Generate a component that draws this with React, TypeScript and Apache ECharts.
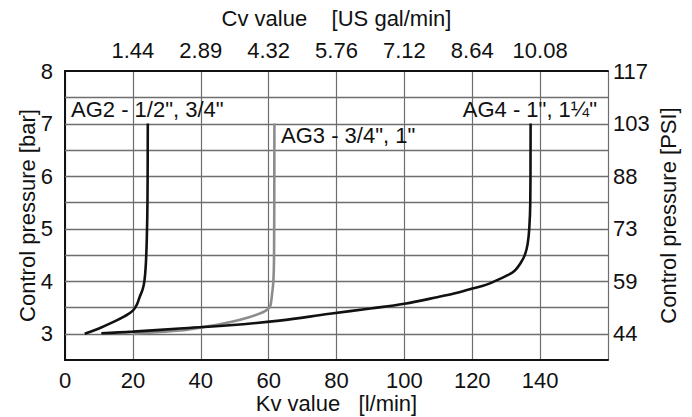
import React, { useEffect, useRef } from "react";
import * as echarts from "echarts";

// Kv axis (bottom) ticks and Cv labels (top)
const kvTicks = [0, 20, 40, 60, 80, 100, 120, 140, 160];
const cvLabels = ["", "1.44", "2.89", "4.32", "5.76", "7.12", "8.64", "10.08", ""];
// pressure (left, bar) and PSI labels (right)
const barTicks = [3, 4, 5, 6, 7, 8];
const psiLabels = ["44", "59", "73", "88", "103", "117"];
// horizontal grid lines every half bar
const gridBars = [3, 3.5, 4, 4.5, 5, 5.5, 6, 6.5, 7, 7.5];

// AG2 - 1/2", 3/4"
const ag2Kv = [5.8, 10, 14.1, 17.5, 20, 21.2, 22, 22.9, 23.4, 23.8, 24.1, 24.3, 24.4];
const ag2P = [3.0, 3.1, 3.22, 3.33, 3.44, 3.56, 3.7, 3.85, 4.0, 4.3, 4.8, 5.5, 7.0];
// AG3 - 3/4", 1"
const ag3Kv = [20, 27, 33.8, 41, 48.5, 54, 58.3, 59.8, 60.5, 61, 61.4, 61.6, 61.7];
const ag3P = [3.0, 3.03, 3.06, 3.13, 3.22, 3.31, 3.41, 3.47, 3.53, 3.75, 4.0, 4.5, 7.0];
// AG4 - 1", 1¼"
const ag4Kv = [10.7, 20, 33.8, 48.5, 63.2, 78, 90, 100, 110, 116.2, 120, 124, 127, 130, 132.5, 134.3, 135.5, 136.3, 136.8, 137.1, 137.2];
const ag4P = [3.01, 3.04, 3.1, 3.16, 3.25, 3.38, 3.48, 3.57, 3.7, 3.79, 3.86, 3.93, 4.01, 4.1, 4.2, 4.35, 4.5, 4.7, 5.0, 5.5, 7.0];

const seriesLabels = ['AG2 - 1/2", 3/4"', 'AG3 - 3/4", 1"', 'AG4 - 1", 1¼"'];

const FONT = "Liberation Sans";
const FS = 22;

export default function App() {
  const ref = useRef<HTMLDivElement>(null);
  useEffect(() => {
    if (!ref.current) return;
    const chart = echarts.init(ref.current, null, { renderer: "svg" });
    const zip = (a: number[], b: number[]) => a.map((v, i) => [v, b[i]]);
    const axisLine = { show: true, lineStyle: { color: "#111", width: 2 } };
    const txt = { color: "#111", fontFamily: FONT, fontSize: FS, lineHeight: FS };
    const gridColor = "#6e6e6e";
    const xMin = kvTicks[0];
    const xMax = kvTicks[kvTicks.length - 1];
    chart.setOption({
      animation: false,
      backgroundColor: "#fff",
      grid: { left: 65, right: 84, top: 71, bottom: 57, containLabel: false, outerBoundsMode: "none" },
      xAxis: [
        {
          type: "value", position: "bottom", min: xMin, max: xMax, interval: 20,
          axisLine, axisTick: { show: false },
          axisLabel: { ...txt, margin: 9, formatter: (v: number) => (v === 160 ? "" : String(v)) },
          splitLine: { show: true, lineStyle: { color: gridColor, width: 1.2 } },
          name: "Kv value   [l/min]", nameLocation: "middle", nameGap: 32, nameMoveOverlap: false,
          nameTextStyle: { ...txt },
        },
        {
          type: "value", position: "top", min: xMin, max: xMax, interval: 20,
          axisLine, axisTick: { show: false },
          axisLabel: { ...txt, margin: 10, formatter: (v: number) => cvLabels[kvTicks.indexOf(v)] ?? "" },
          splitLine: { show: false },
          name: "Cv value    [US gal/min]", nameLocation: "middle", nameGap: 42, nameMoveOverlap: false,
          nameTextStyle: { ...txt },
        },
      ],
      yAxis: [
        {
          type: "value", position: "left", min: 2.5, max: 8, interval: 0.5,
          axisLine, axisTick: { show: false },
          axisLabel: { ...txt, margin: 12, formatter: (v: number) => (barTicks.includes(v) ? String(v) : "") },
          splitLine: { show: false },
          name: "Control pressure [bar]", nameLocation: "middle", nameGap: 27, nameRotate: 90, nameMoveOverlap: false,
          nameTextStyle: { ...txt },
        },
        {
          type: "value", position: "right", min: 2.5, max: 8, interval: 0.5,
          axisLine, axisTick: { show: false },
          axisLabel: { ...txt, margin: 5, formatter: (v: number) => { const i = barTicks.indexOf(v); return i >= 0 ? psiLabels[i] : ""; } },
          splitLine: { show: false },
          name: "Control pressure [PSI]", nameLocation: "middle", nameGap: 49, nameRotate: 90, nameMoveOverlap: false,
          nameTextStyle: { ...txt },
        },
      ],
      series: [
        {
          name: "halfbar-grid", type: "custom", xAxisIndex: 0, yAxisIndex: 0, silent: true, z: 1,
          data: gridBars.map((b) => [b]),
          encode: { y: 0 },
          renderItem: (params: any, api: any) => {
            const b = api.value(0);
            const p1 = api.coord([xMin, b]);
            const p2 = api.coord([xMax, b]);
            const y = Math.round(p1[1]) + 0.5;
            return {
              type: "line",
              shape: { x1: p1[0], y1: y, x2: p2[0], y2: y },
              style: { stroke: gridColor, lineWidth: 1.3 },
            };
          },
        },
        {
          name: seriesLabels[0], type: "line", xAxisIndex: 0, yAxisIndex: 0, data: zip(ag2Kv, ag2P), z: 3,
          showSymbol: false, smooth: 0.4, lineStyle: { color: "#111", width: 2.6 },
        },
        {
          name: seriesLabels[1], type: "line", xAxisIndex: 0, yAxisIndex: 0, data: zip(ag3Kv, ag3P), z: 2,
          showSymbol: false, smooth: 0.4, lineStyle: { color: "#8c8c8c", width: 2.6 },
        },
        {
          name: seriesLabels[2], type: "line", xAxisIndex: 0, yAxisIndex: 0, data: zip(ag4Kv, ag4P), z: 3,
          showSymbol: false, smooth: 0.4, lineStyle: { color: "#111", width: 2.6 },
        },
      ],
      graphic: [
        { type: "text", left: 71, top: 98, z: 10, style: { text: seriesLabels[0], fill: "#111", font: `${FS}px "${FONT}"` } },
        { type: "text", left: 281, top: 124, z: 10, style: { text: seriesLabels[1], fill: "#111", font: `${FS}px "${FONT}"` } },
        { type: "text", right: 95, top: 98, z: 10, style: { text: seriesLabels[2], fill: "#111", font: `${FS}px "${FONT}"` } },
      ],
    });
    return () => chart.dispose();
  }, []);
  return <div ref={ref} style={{ width: 692, height: 417, position: "absolute", left: 0, top: 0 }} />;
}
